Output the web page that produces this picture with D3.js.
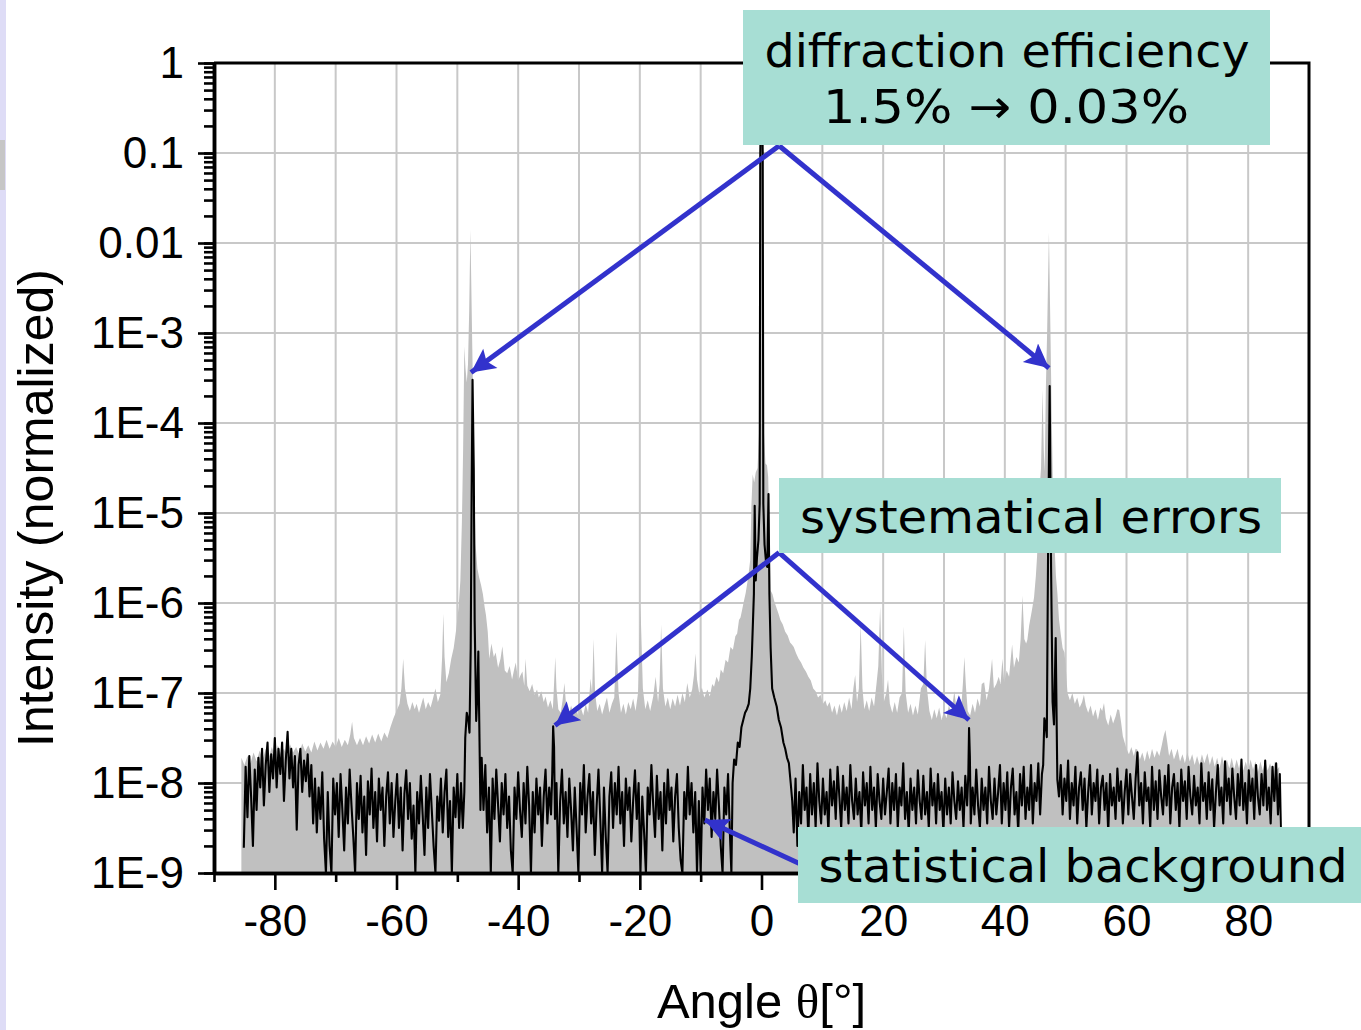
<!DOCTYPE html>
<html>
<head>
<meta charset="utf-8">
<script src="https://cdn.jsdelivr.net/npm/d3@7"></script>
<style>
  body { margin: 0; background: #fff; }
  svg { display: block; }
</style>
</head>
<body>
<svg width="1361" height="1030"></svg>
<script>
// axis ticks
const xMajorTicks = [-80, -60, -40, -20, 0, 20, 40, 60, 80];
const xMinorTicks = [-90, -70, -50, -30, -10, 10, 30, 50, 70, 90];
const xGridLines = [-80, -70, -60, -50, -40, -30, -20, -10, 0, 10, 20, 30, 40, 50, 60, 70, 80];
const yMajorTicks = [1, 0.1, 0.01, 1e-3, 1e-4, 1e-5, 1e-6, 1e-7, 1e-8, 1e-9];
const yTickLabels = ["1", "0.1", "0.01", "1E-3", "1E-4", "1E-5", "1E-6", "1E-7", "1E-8", "1E-9"];

// [angle in degrees, log10 of normalized intensity]
// grey trace: before correction
const greyTrace = [
  [-85.5,-7.72],[-85.0,-7.80],[-84.5,-7.70],[-84.0,-7.78],[-83.5,-7.66],[-83.0,-7.76],[-82.5,-7.64],[-82.0,-7.74],
  [-81.5,-7.62],[-81.0,-7.72],[-80.5,-7.60],[-80.0,-7.70],[-79.5,-7.58],[-79.0,-7.68],[-78.5,-7.62],[-78.0,-7.70],
  [-77.5,-7.57],[-77.0,-7.66],[-76.5,-7.60],[-76.0,-7.68],[-75.5,-7.56],[-75.0,-7.65],[-74.5,-7.58],[-74.0,-7.66],
  [-73.5,-7.54],[-73.0,-7.64],[-72.5,-7.55],[-72.0,-7.62],[-71.5,-7.52],[-71.0,-7.62],[-70.5,-7.54],[-70.0,-7.60],
  [-69.5,-7.50],[-69.0,-7.60],[-68.5,-7.52],[-68.0,-7.58],[-67.6,-7.46],[-67.3,-7.32],[-67.0,-7.50],[-66.5,-7.58],
  [-66.0,-7.50],[-65.5,-7.58],[-65.0,-7.48],[-64.5,-7.56],[-64.0,-7.46],[-63.5,-7.55],[-63.0,-7.45],[-62.5,-7.54],
  [-62.0,-7.44],[-61.5,-7.50],[-61.0,-7.38],[-60.5,-7.28],[-60.0,-7.20],[-59.5,-7.12],[-59.2,-6.95],[-58.9,-6.62],
  [-58.6,-6.95],[-58.2,-7.12],[-57.8,-7.20],[-57.4,-7.10],[-57.0,-7.18],[-56.7,-7.12],[-56.3,-7.22],[-55.9,-7.12],
  [-55.6,-7.05],[-55.2,-7.18],[-54.8,-7.10],[-54.4,-7.16],[-54.0,-7.06],[-53.6,-6.95],[-53.2,-7.10],[-52.8,-7.02],
  [-52.5,-6.60],[-52.3,-6.12],[-52.1,-6.60],[-51.8,-6.88],[-51.4,-6.78],[-51.0,-6.62],[-50.6,-6.50],[-50.2,-6.30],
  [-49.8,-6.05],[-49.5,-5.75],[-49.25,-5.10],[-49.05,-4.30],[-48.85,-3.15],[-48.65,-3.40],[-48.45,-3.55],[-48.25,-3.35],
  [-48.05,-2.75],[-47.85,-1.85],[-47.65,-2.70],[-47.45,-3.55],[-47.25,-4.55],[-47.0,-5.35],[-46.7,-5.62],[-46.4,-5.72],
  [-46.1,-5.80],[-45.8,-5.90],[-45.5,-6.05],[-45.3,-6.13],[-45.0,-6.32],[-44.75,-6.62],[-44.4,-6.45],[-44.0,-6.60],
  [-43.7,-6.55],[-43.3,-6.72],[-42.9,-6.62],[-42.6,-6.48],[-42.2,-6.75],[-41.8,-6.78],[-41.4,-6.70],[-41.0,-6.85],
  [-40.7,-6.75],[-40.4,-6.66],[-40.0,-6.86],[-39.6,-6.80],[-39.3,-6.76],[-39.0,-6.92],[-38.8,-6.62],[-38.5,-6.92],
  [-38.1,-6.98],[-37.7,-6.90],[-37.3,-7.02],[-36.9,-6.96],[-36.6,-7.05],[-36.2,-6.98],[-35.8,-7.10],[-35.5,-7.04],
  [-35.1,-7.16],[-34.7,-7.08],[-34.3,-7.18],[-34.1,-6.90],[-33.9,-6.60],[-33.7,-6.95],[-33.4,-7.18],[-33.0,-7.22],
  [-32.7,-7.08],[-32.4,-6.89],[-32.1,-7.15],[-31.7,-7.25],[-31.3,-7.14],[-30.9,-7.24],[-30.5,-7.15],[-30.1,-7.26],
  [-29.7,-7.16],[-29.3,-7.25],[-28.9,-7.12],[-28.5,-7.22],[-28.1,-6.84],[-27.85,-7.00],[-27.6,-6.40],[-27.35,-7.00],
  [-27.0,-7.20],[-26.6,-7.12],[-26.2,-7.24],[-25.8,-7.14],[-25.4,-7.05],[-25.0,-7.22],[-24.6,-7.12],[-24.2,-7.05],
  [-23.85,-6.32],[-23.5,-7.00],[-23.1,-7.22],[-22.7,-7.12],[-22.3,-7.24],[-21.9,-7.10],[-21.5,-7.18],[-21.1,-7.06],
  [-20.7,-7.20],[-20.3,-7.00],[-19.9,-6.02],[-19.5,-6.95],[-19.1,-7.18],[-18.7,-7.08],[-18.3,-7.20],[-17.8,-7.04],
  [-17.4,-6.82],[-17.0,-7.10],[-16.75,-6.90],[-16.5,-6.24],[-16.2,-6.95],[-15.8,-7.15],[-15.4,-7.05],[-15.0,-7.18],
  [-14.6,-7.06],[-14.2,-7.15],[-13.8,-7.02],[-13.4,-7.14],[-13.0,-7.00],[-12.6,-7.10],[-12.2,-6.89],[-11.8,-7.05],
  [-11.4,-6.96],[-11.1,-6.80],[-10.85,-6.56],[-10.6,-6.85],[-10.2,-7.02],[-9.8,-6.94],[-9.4,-7.05],[-8.9,-6.96],
  [-8.5,-7.04],[-8.1,-6.90],[-7.8,-6.93],[-7.4,-6.82],[-7.0,-6.88],[-6.7,-6.74],[-6.3,-6.78],[-5.9,-6.63],
  [-5.5,-6.66],[-5.1,-6.49],[-4.7,-6.52],[-4.3,-6.37],[-4.0,-6.34],[-3.7,-6.19],[-3.45,-6.16],[-3.2,-6.08],
  [-2.9,-5.98],[-2.6,-5.89],[-2.2,-5.72],[-1.85,-5.52],[-1.65,-4.90],[-1.45,-4.57],[-1.2,-4.66],[-0.95,-4.55],
  [-0.65,-4.50],[-0.4,-4.10],[-0.25,-2.50],[-0.1,-0.80],[0.0,0.00],[0.1,-0.80],[0.25,-2.50],[0.4,-4.10],
  [0.65,-4.45],[0.9,-4.47],[1.1,-4.60],[1.3,-5.20],[1.5,-5.86],[1.8,-5.90],[2.1,-5.98],[2.5,-6.06],
  [2.8,-6.12],[3.1,-6.19],[3.5,-6.24],[3.9,-6.32],[4.3,-6.36],[4.7,-6.44],[5.0,-6.46],[5.3,-6.49],
  [5.7,-6.56],[6.1,-6.62],[6.5,-6.66],[6.9,-6.72],[7.3,-6.76],[7.7,-6.82],[8.1,-6.86],[8.5,-6.95],
  [8.9,-6.98],[9.3,-7.05],[9.7,-7.02],[10.1,-7.12],[10.5,-7.08],[10.8,-7.15],[11.2,-7.10],[11.6,-7.22],
  [12.0,-7.14],[12.4,-7.25],[12.8,-7.12],[13.2,-7.22],[13.6,-7.10],[14.0,-7.20],[14.4,-7.05],[14.8,-7.18],
  [15.1,-6.95],[15.4,-6.80],[15.7,-7.10],[16.0,-6.95],[16.3,-6.23],[16.6,-6.95],[16.9,-7.18],[17.3,-7.08],
  [17.7,-7.20],[18.1,-7.05],[18.5,-7.15],[18.9,-6.90],[19.2,-6.70],[19.5,-6.04],[19.8,-6.80],[20.1,-7.10],
  [20.5,-7.00],[20.8,-6.85],[21.1,-7.12],[21.5,-7.22],[21.9,-7.10],[22.3,-7.22],[22.7,-7.05],[23.1,-7.00],
  [23.4,-6.26],[23.7,-7.00],[24.1,-7.22],[24.5,-7.12],[24.9,-7.25],[25.3,-7.14],[25.7,-7.24],[26.2,-6.95],
  [26.6,-6.90],[26.9,-6.41],[27.2,-6.95],[27.6,-7.20],[28.0,-7.30],[28.4,-7.18],[28.8,-7.28],[29.2,-7.16],
  [29.6,-7.30],[30.0,-7.20],[30.4,-7.28],[30.8,-7.14],[31.2,-7.22],[31.7,-6.98],[32.1,-7.20],[32.5,-7.28],
  [32.9,-7.10],[33.1,-6.90],[33.35,-6.60],[33.6,-6.92],[33.9,-7.20],[34.3,-7.25],[34.7,-7.12],[35.1,-7.22],
  [35.5,-7.06],[35.9,-7.15],[36.2,-6.90],[36.6,-6.88],[37.0,-7.08],[37.4,-6.95],[37.9,-6.62],[38.2,-6.95],
  [38.6,-6.90],[39.0,-6.82],[39.3,-6.90],[39.6,-6.62],[39.9,-6.88],[40.3,-6.75],[40.7,-6.82],[41.0,-6.60],
  [41.2,-6.46],[41.5,-6.72],[41.9,-6.60],[42.3,-6.66],[42.6,-6.40],[42.9,-5.92],[43.2,-6.40],[43.5,-6.45],
  [43.7,-6.41],[44.0,-6.25],[44.4,-6.10],[44.8,-5.94],[45.1,-5.70],[45.3,-5.48],[45.55,-5.05],[45.75,-4.70],
  [45.95,-4.50],[46.2,-3.63],[46.4,-4.30],[46.55,-4.54],[46.75,-3.60],[46.95,-3.00],[47.25,-1.88],[47.5,-3.00],
  [47.7,-3.90],[47.95,-4.90],[48.2,-5.40],[48.4,-5.70],[48.65,-5.90],[48.9,-6.18],[49.2,-6.35],[49.5,-6.50],
  [49.8,-6.55],[50.0,-6.70],[50.3,-7.00],[50.7,-7.08],[51.1,-7.00],[51.5,-7.12],[51.9,-7.05],[52.3,-7.16],
  [52.7,-7.10],[53.0,-7.02],[53.3,-7.14],[53.7,-7.22],[54.1,-7.14],[54.5,-7.26],[54.9,-7.18],[55.3,-7.30],
  [55.7,-7.16],[56.0,-7.20],[56.3,-7.11],[56.6,-7.28],[57.0,-7.36],[57.4,-7.24],[57.8,-7.34],[58.2,-7.26],
  [58.5,-7.18],[58.8,-7.19],[59.1,-7.32],[59.4,-7.48],[59.7,-7.55],[60.0,-7.62],[60.4,-7.68],[60.8,-7.60],
  [61.2,-7.70],[61.5,-7.62],[61.8,-7.63],[62.2,-7.74],[62.6,-7.66],[63.0,-7.76],[63.4,-7.64],[63.8,-7.74],
  [64.2,-7.62],[64.6,-7.72],[65.0,-7.64],[65.4,-7.70],[65.8,-7.58],[66.1,-7.48],[66.4,-7.41],[66.7,-7.55],
  [67.0,-7.70],[67.4,-7.62],[67.8,-7.74],[68.2,-7.66],[68.4,-7.62],[68.8,-7.76],[69.2,-7.68],[69.6,-7.78],
  [70.0,-7.66],[70.4,-7.76],[70.8,-7.68],[71.2,-7.80],[71.6,-7.70],[72.0,-7.80],[72.4,-7.68],[72.8,-7.78],
  [73.3,-7.67],[73.7,-7.80],[74.1,-7.70],[74.5,-7.82],[74.9,-7.72],[75.3,-7.84],[75.7,-7.70],[76.1,-7.82],
  [76.5,-7.74],[76.9,-7.84],[77.3,-7.72],[77.7,-7.85],[78.1,-7.74],[78.5,-7.84],[78.8,-7.74],[79.2,-7.86],
  [79.6,-7.76],[80.0,-7.86],[80.4,-7.74],[80.8,-7.85],[81.2,-7.76],[81.6,-7.88],[82.0,-7.76],[82.4,-7.86],
  [82.8,-7.75],[83.2,-7.86],[83.6,-7.78],[84.0,-7.88],[84.4,-7.76],[84.8,-7.85],[85.1,-7.82]
];

// black trace: after correction
const blackTrace = [
  [-85.1,-8.72],[-84.8,-7.82],[-84.5,-8.38],[-84.2,-7.70],[-83.9,-8.15],[-83.6,-8.70],[-83.3,-7.85],[-83.0,-8.30],
  [-82.7,-7.72],[-82.4,-8.05],[-82.1,-7.62],[-81.8,-8.25],[-81.5,-7.80],[-81.2,-7.55],[-80.9,-8.10],[-80.6,-7.68],
  [-80.3,-7.95],[-80.0,-7.50],[-79.7,-8.05],[-79.4,-7.62],[-79.1,-7.90],[-78.8,-7.55],[-78.5,-8.20],[-78.2,-7.75],
  [-77.9,-7.43],[-77.6,-7.95],[-77.3,-7.62],[-77.0,-8.05],[-76.7,-7.70],[-76.4,-8.52],[-76.1,-7.80],[-75.8,-7.62],
  [-75.5,-8.10],[-75.2,-7.75],[-74.9,-7.98],[-74.6,-7.68],[-74.3,-8.15],[-74.0,-7.80],[-73.7,-8.45],[-73.4,-7.95],
  [-73.1,-8.55],[-72.8,-8.05],[-72.5,-8.40],[-72.2,-7.88],[-71.9,-8.62],[-71.6,-9.10],[-71.3,-8.10],[-71.0,-8.70],
  [-70.7,-9.10],[-70.4,-7.95],[-70.1,-8.35],[-69.8,-8.00],[-69.5,-8.60],[-69.2,-7.90],[-68.9,-8.30],[-68.6,-8.75],
  [-68.3,-8.05],[-68.0,-8.45],[-67.7,-7.85],[-67.4,-8.25],[-67.1,-8.60],[-66.8,-9.10],[-66.5,-8.00],[-66.2,-8.40],
  [-65.9,-7.92],[-65.6,-8.55],[-65.3,-8.15],[-65.0,-8.80],[-64.7,-7.98],[-64.4,-8.35],[-64.1,-7.84],[-63.8,-8.50],
  [-63.5,-8.10],[-63.2,-8.65],[-62.9,-7.95],[-62.6,-8.30],[-62.3,-8.05],[-62.0,-8.70],[-61.7,-8.15],[-61.4,-7.88],
  [-61.1,-8.45],[-60.8,-8.00],[-60.5,-8.60],[-60.2,-8.20],[-59.9,-7.90],[-59.6,-8.50],[-59.3,-8.05],[-59.0,-8.75],
  [-58.7,-8.12],[-58.4,-7.86],[-58.1,-8.40],[-57.8,-8.00],[-57.5,-8.62],[-57.2,-8.25],[-56.9,-9.10],[-56.6,-8.10],
  [-56.3,-8.45],[-56.0,-7.92],[-55.7,-8.35],[-55.4,-8.80],[-55.1,-8.05],[-54.8,-8.50],[-54.5,-7.90],[-54.2,-8.30],
  [-53.9,-8.70],[-53.6,-9.10],[-53.3,-8.15],[-53.0,-8.42],[-52.7,-7.95],[-52.4,-8.55],[-52.1,-8.10],[-51.8,-7.85],
  [-51.5,-8.60],[-51.2,-8.20],[-50.9,-9.10],[-50.6,-8.05],[-50.3,-8.38],[-50.0,-7.90],[-49.7,-8.50],[-49.4,-8.00],
  [-49.1,-8.50],[-48.85,-8.10],[-48.7,-7.50],[-48.45,-7.22],[-48.2,-7.30],[-48.0,-7.44],[-47.8,-6.50],[-47.65,-4.80],
  [-47.5,-3.52],[-47.3,-4.50],[-47.15,-6.20],[-46.9,-7.31],[-46.7,-7.00],[-46.55,-6.54],[-46.4,-7.30],[-46.2,-8.30],
  [-46.0,-7.72],[-45.7,-8.30],[-45.4,-7.80],[-45.1,-8.55],[-44.8,-8.05],[-44.5,-9.10],[-44.2,-7.95],[-43.9,-8.40],
  [-43.6,-7.85],[-43.3,-8.25],[-43.0,-8.65],[-42.7,-8.00],[-42.4,-8.35],[-42.1,-7.90],[-41.8,-8.50],[-41.5,-8.15],
  [-41.2,-8.75],[-40.9,-9.10],[-40.6,-8.05],[-40.3,-8.40],[-40.0,-7.88],[-39.7,-8.30],[-39.4,-8.60],[-39.1,-8.00],
  [-38.8,-8.45],[-38.5,-7.82],[-38.2,-8.25],[-37.9,-9.10],[-37.6,-8.10],[-37.3,-8.55],[-37.0,-7.95],[-36.7,-8.35],
  [-36.4,-8.05],[-36.1,-8.70],[-35.8,-8.15],[-35.5,-7.85],[-35.2,-8.45],[-34.9,-8.05],[-34.6,-8.35],[-34.4,-7.90],
  [-34.25,-7.37],[-34.1,-7.60],[-33.95,-8.40],[-33.7,-8.00],[-33.4,-9.10],[-33.1,-8.20],[-32.8,-7.85],[-32.5,-8.45],
  [-32.2,-8.10],[-31.9,-8.60],[-31.6,-7.95],[-31.3,-8.30],[-31.0,-8.75],[-30.7,-8.05],[-30.4,-8.50],[-30.1,-9.10],
  [-29.8,-8.00],[-29.5,-8.35],[-29.2,-7.80],[-28.9,-8.55],[-28.6,-8.15],[-28.3,-7.90],[-28.0,-8.45],[-27.7,-8.10],
  [-27.4,-8.80],[-27.1,-8.25],[-26.8,-7.85],[-26.5,-8.40],[-26.2,-9.10],[-25.9,-8.05],[-25.6,-8.60],[-25.3,-9.10],
  [-25.0,-8.15],[-24.7,-7.88],[-24.4,-8.50],[-24.1,-8.00],[-23.8,-8.35],[-23.5,-7.82],[-23.2,-8.45],[-22.9,-8.10],
  [-22.6,-8.70],[-22.3,-7.95],[-22.0,-8.30],[-21.7,-8.05],[-21.4,-8.65],[-21.1,-8.20],[-20.8,-7.86],[-20.5,-8.40],
  [-20.2,-8.00],[-19.9,-9.10],[-19.6,-8.15],[-19.3,-8.55],[-19.0,-9.10],[-18.7,-8.05],[-18.4,-8.35],[-18.1,-7.80],
  [-17.8,-8.25],[-17.5,-8.60],[-17.2,-7.92],[-16.9,-8.40],[-16.6,-8.10],[-16.3,-8.75],[-16.0,-8.00],[-15.7,-8.45],
  [-15.4,-7.85],[-15.1,-8.30],[-14.8,-8.05],[-14.5,-8.65],[-14.2,-8.15],[-13.9,-7.90],[-13.6,-8.50],[-13.3,-8.85],
  [-13.0,-9.10],[-12.7,-8.10],[-12.4,-8.40],[-12.1,-7.82],[-11.8,-8.35],[-11.5,-8.00],[-11.2,-8.55],[-10.9,-8.10],
  [-10.6,-9.10],[-10.3,-8.20],[-10.0,-9.10],[-9.7,-8.05],[-9.4,-8.45],[-9.1,-7.85],[-8.8,-8.30],[-8.5,-7.95],
  [-8.2,-8.60],[-7.9,-8.10],[-7.6,-8.40],[-7.3,-7.85],[-7.0,-8.25],[-6.7,-8.70],[-6.4,-9.10],[-6.1,-8.05],
  [-5.8,-8.35],[-5.5,-7.90],[-5.2,-8.55],[-4.95,-9.10],[-4.75,-8.00],[-4.5,-7.74],[-4.2,-7.80],[-3.9,-7.55],
  [-3.6,-7.60],[-3.3,-7.38],[-3.0,-7.30],[-2.7,-7.22],[-2.4,-7.18],[-2.1,-7.12],[-1.85,-6.95],[-1.6,-6.60],
  [-1.4,-6.20],[-1.25,-5.90],[-1.12,-4.92],[-0.95,-5.75],[-0.75,-5.50],[-0.5,-5.30],[-0.3,-4.90],[-0.2,-1.00],
  [0.0,0.00],[0.2,-1.00],[0.3,-4.90],[0.5,-5.35],[0.75,-5.55],[0.95,-5.60],[1.15,-4.79],[1.3,-5.90],
  [1.5,-6.50],[1.75,-6.95],[2.1,-7.05],[2.5,-7.15],[2.85,-7.30],[3.2,-7.38],[3.6,-7.55],[3.9,-7.62],
  [4.2,-7.72],[4.5,-7.78],[4.8,-8.00],[5.05,-8.20],[5.3,-8.55],[5.6,-7.95],[5.9,-8.70],[6.2,-8.10],
  [6.5,-8.45],[6.8,-7.80],[7.1,-8.30],[7.4,-8.05],[7.7,-8.60],[8.0,-7.90],[8.3,-8.35],[8.6,-8.00],
  [8.9,-8.50],[9.2,-7.78],[9.5,-8.20],[9.8,-8.45],[10.1,-7.95],[10.4,-8.35],[10.7,-8.10],[11.0,-8.55],
  [11.3,-7.85],[11.6,-8.25],[11.9,-7.98],[12.2,-8.40],[12.5,-7.82],[12.8,-8.15],[13.1,-8.50],[13.4,-7.92],
  [13.7,-8.30],[14.0,-8.05],[14.3,-8.45],[14.6,-7.80],[14.9,-8.20],[15.2,-8.40],[15.5,-7.95],[15.8,-8.35],
  [16.1,-8.10],[16.4,-8.55],[16.7,-7.88],[17.0,-8.25],[17.3,-8.00],[17.6,-8.45],[17.9,-7.82],[18.2,-8.30],
  [18.5,-8.05],[18.8,-8.50],[19.1,-7.90],[19.4,-8.20],[19.7,-8.40],[20.0,-7.95],[20.3,-8.35],[20.6,-8.10],
  [20.9,-7.84],[21.2,-8.45],[21.5,-8.00],[21.8,-8.30],[22.1,-7.90],[22.4,-8.50],[22.7,-8.05],[23.0,-8.25],
  [23.3,-7.78],[23.6,-8.40],[23.9,-8.10],[24.2,-8.55],[24.5,-7.95],[24.8,-8.30],[25.1,-8.05],[25.4,-8.45],
  [25.7,-7.86],[26.0,-8.20],[26.3,-8.40],[26.6,-7.92],[26.9,-8.35],[27.2,-8.10],[27.5,-8.50],[27.8,-7.84],
  [28.1,-8.25],[28.4,-8.00],[28.7,-8.45],[29.0,-7.90],[29.3,-8.30],[29.6,-8.10],[29.9,-8.55],[30.2,-7.95],
  [30.5,-8.35],[30.8,-8.05],[31.1,-8.45],[31.4,-7.88],[31.7,-8.20],[32.0,-8.40],[32.3,-7.98],[32.6,-8.30],
  [32.9,-8.05],[33.2,-8.50],[33.5,-7.92],[33.8,-8.25],[34.0,-7.90],[34.12,-7.39],[34.25,-7.70],[34.4,-8.45],
  [34.7,-8.05],[35.0,-8.35],[35.3,-7.85],[35.6,-8.25],[35.9,-8.50],[36.2,-7.95],[36.5,-8.30],[36.8,-8.05],
  [37.1,-8.45],[37.4,-7.82],[37.7,-8.20],[38.0,-8.40],[38.3,-7.95],[38.6,-8.35],[38.9,-8.10],[39.2,-7.80],
  [39.5,-8.45],[39.8,-8.00],[40.1,-8.30],[40.4,-7.88],[40.7,-8.50],[41.0,-8.05],[41.3,-7.84],[41.6,-8.35],
  [41.9,-8.10],[42.2,-8.55],[42.5,-7.90],[42.8,-8.25],[43.1,-7.82],[43.4,-8.40],[43.7,-8.05],[44.0,-8.30],
  [44.3,-7.80],[44.6,-8.45],[44.9,-8.00],[45.2,-8.20],[45.5,-7.78],[45.8,-8.35],[46.1,-7.90],[46.3,-7.80],
  [46.5,-7.28],[46.7,-7.35],[46.9,-7.49],[47.1,-5.50],[47.37,-3.59],[47.6,-5.60],[47.85,-7.10],[48.08,-7.35],
  [48.36,-6.39],[48.63,-7.96],[48.9,-8.15],[49.2,-7.80],[49.5,-8.35],[49.8,-7.95],[50.1,-8.20],[50.4,-7.75],
  [50.7,-8.40],[51.0,-8.00],[51.3,-8.25],[51.6,-7.82],[51.9,-8.45],[52.2,-8.05],[52.5,-7.88],[52.8,-8.30],
  [53.1,-7.95],[53.4,-8.50],[53.7,-8.10],[54.0,-7.80],[54.3,-8.35],[54.6,-8.00],[54.9,-8.20],[55.2,-7.85],
  [55.5,-8.45],[55.8,-8.05],[56.1,-7.92],[56.4,-8.30],[56.7,-8.00],[57.0,-8.55],[57.3,-7.90],[57.6,-8.25],
  [57.9,-8.05],[58.2,-8.40],[58.5,-7.84],[58.8,-8.20],[59.1,-7.98],[59.4,-8.45],[59.7,-8.10],[60.0,-7.85],
  [60.3,-8.35],[60.6,-7.90],[60.9,-8.15],[61.2,-8.40],[61.5,-7.95],[61.8,-7.66],[62.1,-8.25],[62.4,-8.00],
  [62.7,-8.45],[63.0,-7.88],[63.3,-8.20],[63.6,-8.05],[63.9,-8.50],[64.2,-7.82],[64.5,-8.30],[64.8,-7.98],
  [65.1,-8.40],[65.4,-7.86],[65.7,-8.15],[66.0,-8.35],[66.3,-7.92],[66.6,-8.25],[66.9,-7.80],[67.2,-8.45],
  [67.5,-8.05],[67.8,-7.90],[68.1,-8.30],[68.4,-8.00],[68.7,-8.50],[69.0,-7.85],[69.3,-8.20],[69.6,-7.98],
  [69.9,-8.40],[70.2,-7.82],[70.5,-8.15],[70.8,-8.35],[71.1,-7.92],[71.4,-8.25],[71.7,-8.05],[72.0,-8.45],
  [72.3,-7.78],[72.6,-8.20],[72.9,-8.00],[73.2,-8.40],[73.5,-7.88],[73.8,-8.30],[74.1,-7.96],[74.4,-8.50],
  [74.7,-8.10],[75.0,-7.80],[75.3,-8.25],[75.6,-8.05],[75.9,-8.45],[76.2,-7.76],[76.5,-8.20],[76.8,-7.95],
  [77.1,-8.35],[77.4,-7.84],[77.7,-8.15],[78.0,-8.40],[78.3,-7.90],[78.6,-8.25],[78.9,-7.74],[79.2,-8.30],
  [79.5,-8.00],[79.8,-8.45],[80.1,-7.86],[80.4,-8.20],[80.7,-7.95],[81.0,-8.40],[81.3,-7.80],[81.6,-8.15],
  [81.9,-8.35],[82.2,-7.90],[82.5,-8.25],[82.8,-7.75],[83.1,-8.30],[83.4,-8.05],[83.7,-8.45],[84.0,-7.82],
  [84.3,-8.20],[84.6,-7.78],[84.9,-8.35],[85.2,-7.90],[85.4,-8.60]
];

const svg = d3.select("svg"),
      width = +svg.attr("width"),
      height = +svg.attr("height");

const plot = { left: 214, right: 1309, top: 63, bottom: 873 };

const x = d3.scaleLinear().domain([-90, 90]).range([plot.left, plot.right]);
const y = d3.scaleLog().domain([1e-9, 1]).range([plot.bottom, plot.top]).clamp(true);

svg.append("rect").attr("width", width).attr("height", height).attr("fill", "#fff");

// slide edge left over from the original figure
svg.append("rect").attr("x", 0).attr("y", 0).attr("width", 6).attr("height", height).attr("fill", "#dedcf6");
svg.append("rect").attr("x", 0).attr("y", 140).attr("width", 5).attr("height", 50).attr("fill", "#c6c6c6");

// grid
const grid = svg.append("g").attr("stroke", "#c8c8c8").attr("stroke-width", 2);
grid.selectAll(".gx")
    .data(xGridLines)
    .join("line")
    .attr("x1", d => x(d)).attr("x2", d => x(d))
    .attr("y1", plot.top).attr("y2", plot.bottom);
grid.selectAll(".gy")
    .data(yMajorTicks.slice(1, -1))
    .join("line")
    .attr("x1", plot.left).attr("x2", plot.right)
    .attr("y1", d => y(d)).attr("y2", d => y(d));

// grey trace as filled area down to the axis
const area = d3.area()
    .x(d => x(d[0]))
    .y0(y(1e-9))
    .y1(d => y(Math.pow(10, d[1])));

svg.append("path")
    .datum(greyTrace)
    .attr("fill", "#c0c0c0")
    .attr("d", area);

const line = d3.line()
    .x(d => x(d[0]))
    .y(d => y(Math.pow(10, d[1])));

svg.append("path")
    .datum(blackTrace)
    .attr("fill", "none")
    .attr("stroke", "#000")
    .attr("stroke-width", 2.1)
    .attr("stroke-linejoin", "round")
    .attr("d", line);

// axes
const tickFont = "'Liberation Sans', Arial, sans-serif";

const yMinor = svg.append("g")
    .attr("transform", `translate(${plot.left},0)`)
    .call(d3.axisLeft(y).tickValues(y.ticks()).tickSize(10).tickSizeOuter(0).tickFormat(""));
const yMajor = svg.append("g")
    .attr("transform", `translate(${plot.left},0)`)
    .call(d3.axisLeft(y).tickValues(yMajorTicks).tickSize(16).tickPadding(14).tickSizeOuter(0)
        .tickFormat((d, i) => yTickLabels[i]));

const xMinor = svg.append("g")
    .attr("transform", `translate(0,${plot.bottom})`)
    .call(d3.axisBottom(x).tickValues(xMinorTicks).tickSize(9).tickSizeOuter(0).tickFormat(""));
const xMajor = svg.append("g")
    .attr("transform", `translate(0,${plot.bottom})`)
    .call(d3.axisBottom(x).tickValues(xMajorTicks).tickSize(17).tickPadding(15).tickSizeOuter(0)
        .tickFormat(d => String(d)));

[yMinor, yMajor, xMinor, xMajor].forEach(g => {
    g.select(".domain").attr("stroke-width", 3.5);
    g.selectAll(".tick line").attr("stroke-width", 2.6);
    g.selectAll(".tick text")
        .attr("font-family", tickFont)
        .attr("font-size", 44)
        .attr("fill", "#000");
});

// frame top and right
svg.append("path")
    .attr("d", `M${plot.left},${plot.top}H${plot.right}V${plot.bottom}`)
    .attr("fill", "none")
    .attr("stroke", "#000")
    .attr("stroke-width", 3);

// axis titles
svg.append("text")
    .attr("transform", `translate(53,${(plot.top + plot.bottom) / 2 + 40}) rotate(-90)`)
    .attr("text-anchor", "middle")
    .attr("font-family", tickFont)
    .attr("font-size", 50)
    .text("Intensity (normalized)");

const xTitle = svg.append("text")
    .attr("x", x(0))
    .attr("y", 1018)
    .attr("text-anchor", "middle")
    .attr("font-family", tickFont)
    .attr("font-size", 49);
xTitle.append("tspan").text("Angle ");
xTitle.append("tspan").attr("font-family", "'Liberation Serif', 'DejaVu Serif', serif").text("θ");
xTitle.append("tspan").text("[°]");

// annotation arrows, tips placed in data coordinates
const blue = "#3232cc";
svg.append("defs").append("marker")
    .attr("id", "head")
    .attr("viewBox", "0 0 10 10")
    .attr("refX", 10).attr("refY", 5)
    .attr("markerUnits", "userSpaceOnUse")
    .attr("markerWidth", 30).attr("markerHeight", 24)
    .attr("orient", "auto")
    .append("path")
    .attr("d", "M0,0L10,5L0,10L2,5Z")
    .attr("fill", blue);

const arrows = [
    { from: [2.9, -0.92], to: [-47.75, -3.44] },
    { from: [2.9, -0.92], to: [47.25, -3.39] },
    { from: [2.9, -5.44], to: [-33.95, -7.36] },
    { from: [2.9, -5.44], to: [34.1, -7.30] },
    { from: [6.4, -8.90], to: [-9.3, -8.41] }
];
svg.append("g")
    .selectAll("line")
    .data(arrows)
    .join("line")
    .attr("x1", d => x(d.from[0])).attr("y1", d => y(Math.pow(10, d.from[1])))
    .attr("x2", d => x(d.to[0])).attr("y2", d => y(Math.pow(10, d.to[1])))
    .attr("stroke", blue)
    .attr("stroke-width", 5)
    .attr("marker-end", "url(#head)");

// annotation boxes
const noteFont = "'DejaVu Sans', Verdana, sans-serif";
const notes = [
    { x: 743, y: 10, w: 527, h: 135, lines: [
        { text: "diffraction efficiency", cx: 1007, base: 67, len: 485 },
        { text: "1.5% \u2192 0.03%", cx: 1006, base: 123, len: 366 }] },
    { x: 779, y: 478, w: 502, h: 75, lines: [
        { text: "systematical errors", cx: 1031, base: 533, len: 462 }] },
    { x: 798, y: 827, w: 563, h: 76, lines: [
        { text: "statistical background", cx: 1083, base: 882, len: 529 }] }
];

const noteG = svg.append("g").selectAll("g")
    .data(notes)
    .join("g");
noteG.append("rect")
    .attr("x", d => d.x).attr("y", d => d.y)
    .attr("width", d => d.w).attr("height", d => d.h)
    .attr("fill", "#a7ded4");
noteG.selectAll("text")
    .data(d => d.lines)
    .join("text")
    .attr("x", d => d.cx)
    .attr("y", d => d.base)
    .attr("text-anchor", "middle")
    .attr("font-family", noteFont)
    .attr("font-size", 47)
    .attr("textLength", d => d.len)
    .attr("lengthAdjust", "spacingAndGlyphs")
    .text(d => d.text);
</script>
</body>
</html>
